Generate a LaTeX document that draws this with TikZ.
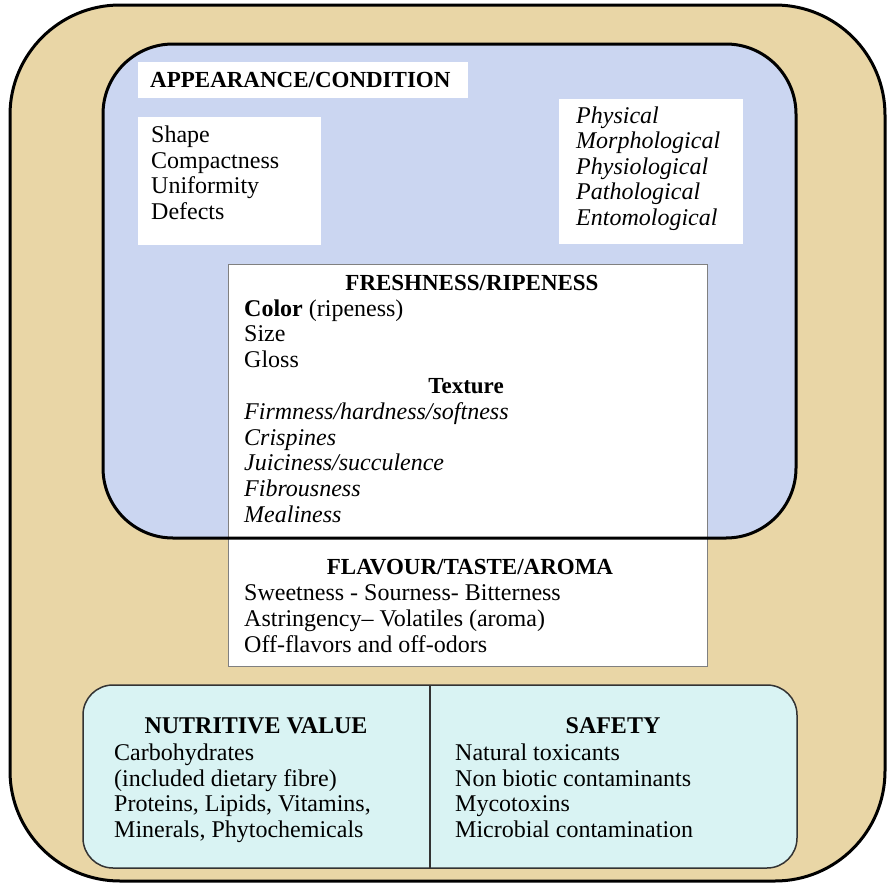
\documentclass[tikz,border=0pt]{standalone}
\usepackage{fontspec}
\setmainfont{Liberation Serif}
\definecolor{tanbg}{RGB}{233,214,166}
\definecolor{bluebg}{RGB}{203,214,241}
\definecolor{tealbg}{RGB}{217,243,243}
\newcommand{\bodyfnt}{\fontsize{24}{26}\selectfont}
\newcommand{\headfnt}{\fontsize{23}{26}\selectfont\bfseries}
\begin{document}
\begin{tikzpicture}[x=1pt,y=-1pt,
  txt/.style={anchor=base west,inner sep=0pt,font=\bodyfnt},
  itx/.style={anchor=base west,inner sep=0pt,font=\bodyfnt\itshape},
  hd/.style={anchor=base,inner sep=0pt,font=\headfnt},
  whitebox/.style={fill=white,draw=none},
  frame/.style={line width=3pt,draw=black}]
\useasboundingbox (0,0) rectangle (889,886);
% outer tan frame
\draw[frame,fill=tanbg,rounded corners=110pt] (10,5) rectangle (885,881);
% blue region
\fill[bluebg,rounded corners=70pt] (103,44) rectangle (796,538);
% white boxes in the blue region
\fill[whitebox] (138,62) rectangle (468,98);
\fill[whitebox] (138,117) rectangle (321,245);
\fill[whitebox] (559,99) rectangle (743,244);
% freshness / flavour box
\draw[fill=white,draw=gray,line width=1pt] (228,264) rectangle (707,666);
% blue region border on top
\draw[frame,rounded corners=70pt] (103,44) rectangle (796,538);
% bottom teal box
\draw[fill=tealbg,draw=black!80,line width=1.5pt,rounded corners=30pt] (83,685) rectangle (797,868);
\draw[black!80,line width=1.5pt] (430,685) -- (430,868);

% texts
\node[anchor=base west,inner sep=0pt,font=\headfnt] (app) at (150,87.5) {APPEARANCE/CONDITION};
\node[txt] (s1) at (151,142.7) {Shape};
\node[txt] (s2) at (151,168.3) {Compactness};
\node[txt] (s3) at (151,193.8) {Uniformity};
\node[txt] (s4) at (151,219.3) {Defects};
\node[itx] (p1) at (576,123.3) {Physical};
\node[itx] (p2) at (576,148.8) {Morphological};
\node[itx] (p3) at (576,174.3) {Physiological};
\node[itx] (p4) at (576,199.8) {Pathological};
\node[itx] (p5) at (576,225.3) {Entomological};

\node[hd] (fresh) at (472,290.7) {FRESHNESS/RIPENESS};
\node[txt] (f1) at (244,316.3) {\textbf{Color} (ripeness)};
\node[txt] (f2) at (244,341.8) {Size};
\node[txt] (f3) at (244,367.3) {Gloss};
\node[hd] (tex) at (466,393.3) {Texture};
\node[itx] (t1) at (244,419.3) {Firmness/hardness/softness};
\node[itx] (t2) at (244,445) {Crispines};
\node[itx] (t3) at (244,470.7) {Juiciness/succulence};
\node[itx] (t4) at (244,496.7) {Fibrousness};
\node[itx] (t5) at (244,522.7) {Mealiness};

\node[hd] (flav) at (470,574) {FLAVOUR/TASTE/AROMA};
\node[txt] (fl1) at (244,600.7) {Sweetness - Sourness- Bitterness};
\node[txt] (fl2) at (244,626.7) {Astringency– Volatiles (aroma)};
\node[txt] (fl3) at (244,652.7) {Off-flavors and off-odors};

\node[hd,font=\fontsize{24}{26}\selectfont\bfseries] (nut) at (256,733.3) {NUTRITIVE VALUE};
\node[txt] (n1) at (114,760) {Carbohydrates};
\node[txt] (n2) at (114,786) {(included dietary fibre)};
\node[txt] (n3) at (114,811.7) {Proteins, Lipids, Vitamins,};
\node[txt] (n4) at (114,837) {Minerals, Phytochemicals};

\node[hd,font=\fontsize{24}{26}\selectfont\bfseries] (saf) at (613,733.3) {SAFETY};
\node[txt] (sa1) at (455,760) {Natural toxicants};
\node[txt] (sa2) at (455,786) {Non biotic contaminants};
\node[txt] (sa3) at (455,811.7) {Mycotoxins};
\node[txt] (sa4) at (455,837) {Microbial contamination};
\end{tikzpicture}
\end{document}
